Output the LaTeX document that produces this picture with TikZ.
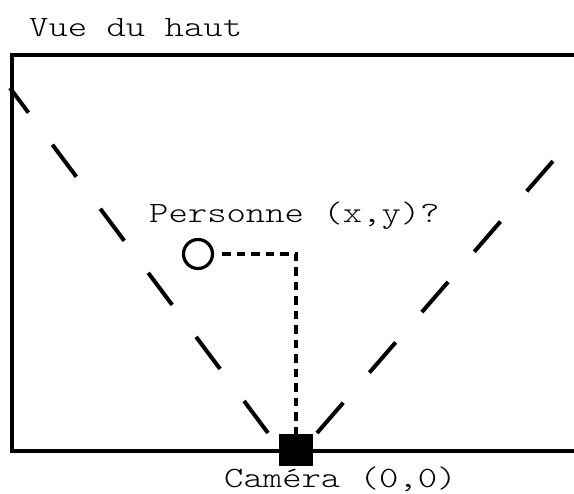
\documentclass[tikz,border=0pt]{standalone}
\usepackage{fontspec}
\newfontfamily\typefont[FakeStretch=1.25]{lmmonolt10-regular.otf}
\begin{document}
\begin{tikzpicture}[x=1pt,y=-1pt,
  frame/.style={line width=4pt},
  fov/.style={line width=4pt, dash pattern=on 40pt off 40pt},
  guide/.style={line width=4pt, dash pattern=on 8.5pt off 6pt},
  lbl/.style={font=\typefont\fontsize{29.5}{29.5}\selectfont, inner sep=0pt, anchor=base west},
  cam/.style={fill=black, minimum width=34pt, minimum height=32pt, inner sep=0pt},
  pers/.style={draw, line width=3.2pt, circle, minimum size=29pt, inner sep=0pt}]
\useasboundingbox (0,0) rectangle (574,494);
\clip (0,0) rectangle (574,494);
% room outline
\draw[frame] (590,55) -- (12,55) -- (12,451) -- (590,451);
% camera and person
\node[cam] (camera) at (296,450) {};
\node[pers] (person) at (198,254) {};
% field of view
\coordinate (lstart) at (268,433);
\coordinate (lend) at (10,88);
\coordinate (rstart) at (317,433);
\coordinate (rend) at (553,161);
\draw[fov] (lstart) -- (lend);
\draw[fov] (rstart) -- (rend);
% guide from person to camera
\draw[guide, shorten <=8pt] (person.east) -| (camera.north);
% labels
\node[lbl] (title) at (29,37) {Vue du haut};
\node[lbl] (ptext) at (149,223) {Personne (x,y)?};
\node[lbl] (ctext) at (224,488) {Caméra (0,0)};
\end{tikzpicture}
\end{document}
